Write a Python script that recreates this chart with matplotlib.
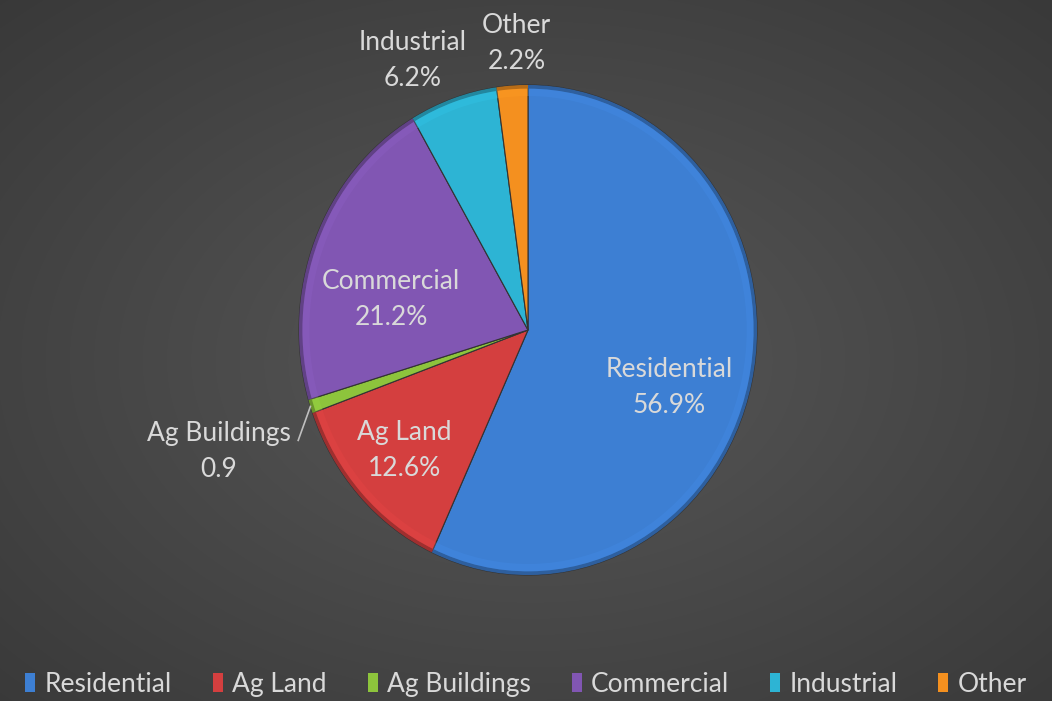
import matplotlib
matplotlib.use("Agg")
import matplotlib.pyplot as plt
import numpy as np

categories = ["Residential", "Ag Land", "Ag Buildings", "Commercial", "Industrial", "Other"]
shares = [56.9, 12.6, 0.9, 21.2, 6.2, 2.2]
value_labels = ["56.9%", "12.6%", "0.9", "21.2%", "6.2%", "2.2%"]
colors = ["#3d7fd3", "#d43f3f", "#8dc43c", "#8156b3", "#2db4d4", "#f4901f"]

# label placement: radius (pie units) and angle nudge (deg) from wedge middle
label_r = [0.66, 0.73, 1.44, 0.61, 1.21, 1.17]
label_shift = [-8.5, 0.0, 2.0, 10.0, 5.5, -1.5]

TEXT = "#d9d9d9"
plt.rcParams['font.family'] = ['Lato', 'DejaVu Sans']

W, H = 1052, 701
fig = plt.figure(figsize=(W / 100, H / 100), dpi=100)

# background: soft radial gradient
bg = fig.add_axes([0, 0, 1, 1])
yy, xx = np.mgrid[0:H, 0:W]
d = np.sqrt(((xx - 530) / W) ** 2 + ((yy - 360) / H) ** 2)
shade = 0.345 - 0.17 * d
bg.imshow(np.dstack([shade] * 3), aspect='auto', extent=(0, W, H, 0))
bg.axis('off')

ax = fig.add_axes([0, 0, 1, 1])
ax.patch.set_alpha(0)
wedges, _ = ax.pie(shares, colors=colors, startangle=90, counterclock=False,
                   radius=1.0, wedgeprops=dict(linewidth=0.8, edgecolor="#333333"))

# bevel-ish rim and highlight
for w, c in zip(wedges, colors):
    rgb = np.array(matplotlib.colors.to_rgb(c))
    ax.add_patch(matplotlib.patches.Wedge((0, 0), 1.0, w.theta1, w.theta2, width=0.015,
                                          facecolor=rgb * 0.75, edgecolor='none'))
    ax.add_patch(matplotlib.patches.Wedge((0, 0), 0.985, w.theta1, w.theta2, width=0.03,
                                          facecolor=np.clip(rgb * 1.1, 0, 1), edgecolor='none',
                                          alpha=0.35))

ax.set_aspect('auto')
cx, cy, rx, ry = 528, 330, 229, 245
ax.set_xlim(-cx / rx, (W - cx) / rx)
ax.set_ylim(-(H - cy) / ry, cy / ry)
ax.axis('off')

for i, w in enumerate(wedges):
    mid = np.deg2rad((w.theta1 + w.theta2) / 2 + label_shift[i])
    x, y = label_r[i] * np.cos(mid), label_r[i] * np.sin(mid)
    ax.text(x, y, categories[i] + "\n" + value_labels[i], color=TEXT, fontsize=19,
            ha='center', va='center', linespacing=1.55)

# leader line for the small Ag Buildings slice
w = wedges[2]
mid = np.deg2rad((w.theta1 + w.theta2) / 2)
end = np.deg2rad((w.theta1 + w.theta2) / 2 + 6.0)
ax.plot([1.0 * np.cos(mid), 1.1 * np.cos(end)], [1.0 * np.sin(mid), 1.1 * np.sin(end)],
        color="#bfbfbf", linewidth=1.2)

handles = [matplotlib.patches.Patch(facecolor=c, edgecolor='none') for c in colors]
leg = fig.legend(handles, categories, loc='lower center', ncol=6, frameon=False,
                 fontsize=19, bbox_to_anchor=(0.5, -0.028), handlelength=0.38,
                 handleheight=0.75, handletextpad=0.35, columnspacing=1.55)
for t in leg.get_texts():
    t.set_color(TEXT)

fig.savefig("out.png", dpi=100)
